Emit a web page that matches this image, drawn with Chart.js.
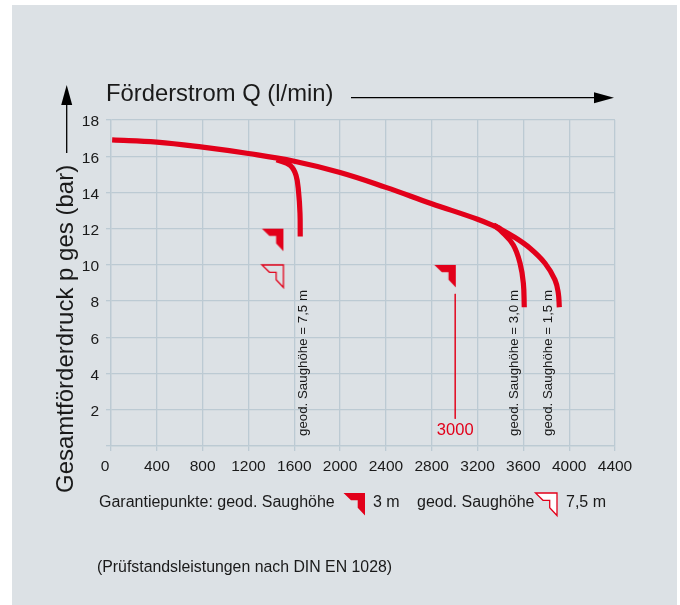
<!DOCTYPE html>
<html>
<head>
<meta charset="utf-8">
<script src="https://cdn.jsdelivr.net/npm/chart.js@4"></script>
<style>
html, body { margin: 0; padding: 0; background: #fff; }
#panel { position: absolute; left: 12px; top: 5px; width: 665px; height: 600px; background: #dce1e5; }
canvas { position: absolute; left: 0; top: 0; }
</style>
</head>
<body>
<div id="panel"></div>
<canvas id="chart" width="680" height="605"></canvas>
<script>
// values
var xTicks = [0, 400, 800, 1200, 1600, 2000, 2400, 2800, 3200, 3600, 4000, 4400];
var yTicks = [2, 4, 6, 8, 10, 12, 14, 16, 18];

var mainFlow = [10, 400, 800, 1200, 1600, 2000, 2400, 2800, 3200, 3400];
var mainPressure = [16.9, 16.78, 16.5, 16.15, 15.72, 15.1, 14.28, 13.38, 12.52, 12.0];

var branch15Flow = [3340, 3512, 3658, 3789, 3876, 3905, 3914];
var branch15Pressure = [12.2, 11.57, 10.92, 10.09, 9.17, 8.44, 7.66];

var branch30Flow = [3340, 3411, 3512, 3571, 3600, 3608];
var branch30Pressure = [12.2, 11.84, 11.1, 10.09, 8.99, 7.66];

var branch75Flow = [1446, 1563, 1615, 1638, 1650, 1652];
var branch75Pressure = [15.8, 15.5, 14.95, 14.0, 12.85, 11.57];

var guideFlow = [3005, 3005];
var guidePressure = [8.4, 1.5];

var guarantee3mFlow = [1505, 3010];
var guarantee3mPressure = [12, 10];
var guarantee75mFlow = [1505];
var guarantee75mPressure = [10];

var branchLabels = ["geod. Saughöhe = 7,5 m", "geod. Saughöhe = 3,0 m", "geod. Saughöhe = 1,5 m"];
var branchLabelFlow = [1712, 3550, 3852];

var red = "#e2001a";
var textColor = "#1a1a1a";
var fontName = "'Liberation Sans', Arial, sans-serif";

function toPoints(xs, ys) {
    var pts = [];
    for (var i = 0; i < xs.length; i++) {
        pts.push({ x: xs[i], y: ys[i] });
    }
    return pts;
}

// flag shaped marker, its top right corner sits in the middle of the image
function makeMarker(fill, stroke) {
    var c = document.createElement("canvas");
    c.width = 50;
    c.height = 50;
    var m = c.getContext("2d");
    var ox = 25, oy = 25;
    m.beginPath();
    m.moveTo(ox - 21.5, oy);
    m.lineTo(ox, oy);
    m.lineTo(ox, oy + 22.5);
    m.lineTo(ox - 7.3, oy + 14.8);
    m.lineTo(ox - 7.3, oy + 7.3);
    m.lineTo(ox - 14, oy + 7.3);
    m.closePath();
    if (fill) {
        m.fillStyle = fill;
        m.fill();
    }
    if (stroke) {
        m.strokeStyle = stroke;
        m.lineWidth = 1.3;
        m.stroke();
    }
    return c;
}

var filledMarker = makeMarker(red, null);
var openMarker = makeMarker(null, red);
var legendOpenMarker = makeMarker("#ffffff", red);

function curve(xs, ys, width) {
    return {
        data: toPoints(xs, ys),
        showLine: true,
        borderColor: red,
        borderWidth: width,
        borderCapStyle: "butt",
        pointRadius: 0,
        tension: 0.4,
        fill: false
    };
}

function arrowHead(c, x, y, dx, dy) {
    c.beginPath();
    c.moveTo(x, y);
    c.lineTo(x - dx * 20 - dy * 5.5, y - dy * 20 - dx * 5.5);
    c.lineTo(x - dx * 20 + dy * 5.5, y - dy * 20 + dx * 5.5);
    c.closePath();
    c.fill();
}

var notes = {
    id: "notes",
    afterDraw: function (chart) {
        var c = chart.ctx;
        var sx = chart.scales.x;
        var sy = chart.scales.y;
        var i;
        c.save();

        // both arrows
        c.fillStyle = "#000";
        c.strokeStyle = "#000";
        c.lineWidth = 1.3;
        c.beginPath();
        c.moveTo(351, 97.7);
        c.lineTo(600, 97.7);
        c.moveTo(66.7, 100);
        c.lineTo(66.7, 153);
        c.stroke();
        arrowHead(c, 614, 97.7, 1, 0);
        arrowHead(c, 66.7, 85, 0, -1);

        c.fillStyle = textColor;
        c.textBaseline = "alphabetic";
        c.textAlign = "left";
        c.font = "23.8px " + fontName;
        c.fillText("Förderstrom Q (l/min)", 106, 101);

        // y title, not centred on the axis
        c.save();
        c.translate(73, 493);
        c.rotate(-Math.PI / 2);
        c.font = "24px " + fontName;
        c.fillText("Gesamtförderdruck p ges (bar)", 0, 0);
        c.restore();

        // the 0 sits left of its grid line
        c.font = "15.5px " + fontName;
        c.textAlign = "center";
        c.fillText("0", sx.getPixelForValue(0) - 6, 471);

        // legend row and footnote
        c.textAlign = "left";
        c.font = "16px " + fontName;
        c.fillText("Garantiepunkte: geod. Saughöhe", 99, 507);
        c.fillText("3 m", 373, 507);
        c.fillText("geod. Saughöhe", 417, 507);
        c.fillText("7,5 m", 566, 507);
        c.font = "15.85px " + fontName;
        c.fillText("(Prüfstandsleistungen nach DIN EN 1028)", 97, 572);
        c.drawImage(filledMarker, 365 - 25, 493 - 25);
        c.drawImage(legendOpenMarker, 557 - 25, 493 - 25);

        // rotated labels under the branches
        c.font = "13.3px " + fontName;
        for (i = 0; i < branchLabels.length; i++) {
            c.save();
            c.translate(sx.getPixelForValue(branchLabelFlow[i]), 436);
            c.rotate(-Math.PI / 2);
            c.fillText(branchLabels[i], 0, 0);
            c.restore();
        }

        c.fillStyle = red;
        c.textAlign = "center";
        c.font = "16.5px " + fontName;
        c.fillText("3000", sx.getPixelForValue(guideFlow[0]), sy.getPixelForValue(0.6));

        c.restore();
    }
};

var chart = new Chart(document.getElementById("chart"), {
    type: "scatter",
    data: {
        datasets: [
            curve(mainFlow, mainPressure, 5.2),
            curve(branch15Flow, branch15Pressure, 5.2),
            curve(branch30Flow, branch30Pressure, 5.2),
            curve(branch75Flow, branch75Pressure, 5.2),
            {
                data: toPoints(guideFlow, guidePressure),
                showLine: true,
                borderColor: red,
                borderWidth: 0.8,
                pointRadius: 0
            },
            {
                data: toPoints(guarantee3mFlow, guarantee3mPressure),
                pointStyle: filledMarker,
                showLine: false
            },
            {
                data: toPoints(guarantee75mFlow, guarantee75mPressure),
                pointStyle: openMarker,
                showLine: false
            }
        ]
    },
    options: {
        responsive: false,
        animation: false,
        devicePixelRatio: 1,
        layout: { padding: { top: 120, right: 65, left: 0, bottom: 0 } },
        plugins: { legend: { display: false }, tooltip: { enabled: false } },
        scales: {
            x: {
                type: "linear",
                min: 0,
                max: 4400,
                afterBuildTicks: function (axis) {
                    axis.ticks = xTicks.map(function (v) { return { value: v }; });
                },
                afterFit: function (axis) { axis.height = 159; },
                grid: { color: "#bccad3", lineWidth: 1.3, tickLength: 5 },
                border: { color: "#bccad3", width: 1.3 },
                ticks: {
                    color: textColor,
                    maxRotation: 0,
                    autoSkip: false,
                    padding: 6,
                    font: { family: fontName, size: 15.5 },
                    callback: function (v) { return v === 0 ? "" : String(v); }
                }
            },
            y: {
                type: "linear",
                min: 0,
                max: 18,
                afterBuildTicks: function (axis) {
                    axis.ticks = [{ value: 0 }].concat(yTicks.map(function (v) { return { value: v }; }));
                },
                afterFit: function (axis) { axis.width = 111; },
                grid: { color: "#bccad3", lineWidth: 1.3, tickLength: 5 },
                border: { color: "#bccad3", width: 1.3 },
                ticks: {
                    color: textColor,
                    padding: 7,
                    labelOffset: 2,
                    autoSkip: false,
                    font: { family: fontName, size: 15.5 },
                    callback: function (v) { return v === 0 ? "" : String(v); }
                }
            }
        }
    },
    plugins: [notes]
});
</script>
</body>
</html>
